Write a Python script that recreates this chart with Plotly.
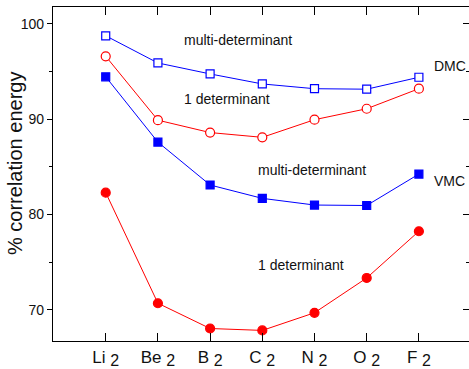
import plotly.graph_objects as go

molecules = ["Li<sub>2</sub>", "Be<sub>2</sub>", "B<sub>2</sub>", "C<sub>2</sub>", "N<sub>2</sub>", "O<sub>2</sub>", "F<sub>2</sub>"]
xpos = [0, 1, 2, 3, 4, 5, 6]

dmc_multi = [98.75, 95.9, 94.75, 93.7, 93.2, 93.15, 94.4]
dmc_single = [96.6, 89.9, 88.6, 88.1, 89.95, 91.1, 93.2]
vmc_multi = [94.45, 87.6, 83.1, 81.7, 81.0, 80.95, 84.25]
vmc_single = [82.3, 70.7, 68.05, 67.85, 69.7, 73.35, 78.25]

ytick_vals = [70, 80, 90, 100]
ytick_text = ["70", "80", "90", "100"]

BLUE = "#0000ff"
RED = "#ff0000"

fig = go.Figure()

def add_series(y, color, symbol, size, hollow):
    fig.add_trace(go.Scatter(
        x=xpos, y=y, mode="lines+markers",
        line=dict(color=color, width=1),
        marker=dict(symbol=symbol, size=size, color="white" if hollow else color,
                    line=dict(color=color, width=1.2)),
        showlegend=False, hoverinfo="skip"))

add_series(dmc_multi, BLUE, "square", 8, True)
add_series(dmc_single, RED, "circle", 9, True)
add_series(vmc_multi, BLUE, "square", 8, False)
add_series(vmc_single, RED, "circle", 9, False)

# dummy trace for the right-hand mirrored tick axis
fig.add_trace(go.Scatter(x=[None], y=[None], yaxis="y2", showlegend=False, hoverinfo="skip"))

ticktext = [m.replace("<sub>", " <sub><span style='font-size:16px'>").replace("</sub>", "</span></sub>") for m in molecules]

yr = [66.74, 101.77]

fig.update_layout(
    width=469, height=369,
    margin=dict(l=53, r=0, t=7, b=26),
    paper_bgcolor="white", plot_bgcolor="white",
    font=dict(family="Liberation Sans, Arial, sans-serif", color="#111"),
    xaxis=dict(range=[-1.01, 6.96], tickvals=xpos, ticktext=ticktext,
               ticks="inside", ticklen=8, tickcolor="black", tickwidth=1,
               showline=True, linecolor="black", linewidth=1.2, mirror="ticks",
               showgrid=False, zeroline=False, tickfont=dict(size=17, color="#111")),
    yaxis=dict(range=yr, tickvals=ytick_vals, ticktext=ytick_text,
               ticks="outside", ticklen=5, tickcolor="black", tickwidth=1,
               minor=dict(tickvals=[75, 85, 95], ticks="outside", ticklen=3, tickcolor="black"),
               showline=True, linecolor="black", linewidth=1.2, mirror=False,
               showgrid=False, zeroline=False, tickfont=dict(size=14, color="#111")),
    yaxis2=dict(range=yr, overlaying="y", side="right", tickvals=ytick_vals,
                showticklabels=False, ticks="inside", ticklen=6, tickcolor="black",
                minor=dict(tickvals=[75, 85, 95], ticks="inside", ticklen=3, tickcolor="black"),
                showline=False, showgrid=False, zeroline=False),
)

ann = dict(showarrow=False, font=dict(size=14, color="#111"), xref="x", yref="y")
fig.add_annotation(text="multi-determinant", x=2.53, y=98.33, xanchor="center", yanchor="middle", **ann)
fig.add_annotation(text="1 determinant", x=1.46, y=92.07, xanchor="left", yanchor="middle", **ann)
fig.add_annotation(text="multi-determinant", x=2.88, y=84.70, xanchor="left", yanchor="middle", **ann)
fig.add_annotation(text="1 determinant", x=2.87, y=74.69, xanchor="left", yanchor="middle", **ann)
fig.add_annotation(text="DMC", x=6.26, y=95.62, xanchor="left", yanchor="middle", **ann)
fig.add_annotation(text="VMC", x=6.26, y=83.47, xanchor="left", yanchor="middle", **ann)

fig.add_annotation(text="% correlation energy", xref="paper", yref="paper",
                   x=-0.0913, y=0.53, xanchor="center", yanchor="middle",
                   textangle=-90, showarrow=False, font=dict(size=20, color="#111"))

fig.write_html("out.html")
